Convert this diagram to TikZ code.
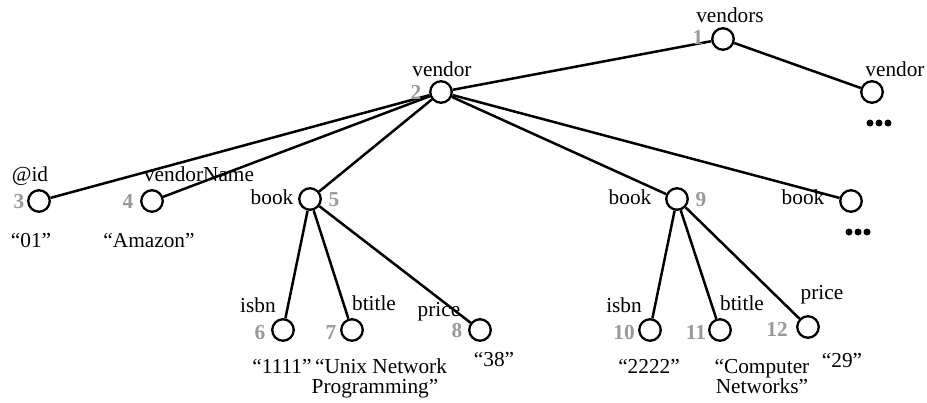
\documentclass[tikz,border=0pt]{standalone}
\usepackage{fontspec}
\setmainfont{Liberation Serif}
\usetikzlibrary{calc}
\begin{document}
\begin{tikzpicture}[x=1pt,y=-1pt,
  elem/.style={circle,draw=black,line width=2.3pt,minimum size=21.5pt,inner sep=0pt},
  edge/.style={line width=2.5pt},
  lbl/.style={anchor=base,inner sep=0pt,font=\fontsize{21.3}{21}\selectfont},
  num/.style={anchor=base,inner sep=0pt,text=numgray,font=\fontsize{21.3}{21}\selectfont\bfseries},
  val/.style={anchor=base,inner sep=0pt,font=\fontsize{21.3}{21}\selectfont}]
\definecolor{numgray}{HTML}{999999}
\useasboundingbox (0,0) rectangle (927,402);

% element nodes
\node[elem] (n1)  at (723,39)  {};
\node[elem] (n2)  at (441,92)  {};
\node[elem] (vR)  at (872,92)  {};
\node[elem] (n3)  at (39,201)  {};
\node[elem] (n4)  at (152,201) {};
\node[elem] (n5)  at (310,199) {};
\node[elem] (n9)  at (677,199) {};
\node[elem] (bR)  at (851,201) {};
\node[elem] (n6)  at (283,330) {};
\node[elem] (n7)  at (352,330) {};
\node[elem] (n8)  at (480,330) {};
\node[elem] (n10) at (650,330) {};
\node[elem] (n11) at (720,330) {};
\node[elem] (n12) at (808,327) {};

% edges
\draw[edge] (n1) -- (n2);
\draw[edge] (n1) -- (vR);
\foreach \c in {n3,n4,n5,n9,bR} \draw[edge] (n2) -- (\c);
\foreach \c in {n6,n7,n8} \draw[edge] (n5) -- (\c);
\foreach \c in {n10,n11,n12} \draw[edge] (n9) -- (\c);

% element names
\node[lbl] (l1)  at (730,22)  {vendors};
\node[lbl] (l2)  at (442,76)  {vendor};
\node[lbl] (lR)  at (895,76)  {vendor};
\node[lbl] (l3)  at (30,181)  {@id};
\node[lbl] (l4)  at (199,181) {vendorName};
\node[lbl] (l5)  at (272,204) {book};
\node[lbl] (l9)  at (630,204) {book};
\node[lbl] (lB)  at (803,204) {book};
\node[lbl] (l6)  at (258,312) {isbn};
\node[lbl] (l7)  at (374,310) {btitle};
\node[lbl] (l8)  at (439,316) {price};
\node[lbl] (l10) at (624,312) {isbn};
\node[lbl] (l11) at (742,310) {btitle};
\node[lbl] (l12) at (822,299) {price};

% node numbers
\node[num] (k1)  at (698,44)  {1};
\node[num] (k2)  at (416,99)  {2};
\node[num] (k3)  at (19,208)  {3};
\node[num] (k4)  at (128,208) {4};
\node[num] (k5)  at (334,206) {5};
\node[num] (k9)  at (701,206) {9};
\node[num] (k6)  at (260,339) {6};
\node[num] (k7)  at (331,339) {7};
\node[num] (k8)  at (457,337) {8};
\node[num] (k10) at (624,339) {10};
\node[num] (k11) at (696,339) {11};
\node[num] (k12) at (777,336) {12};

% values
\node[val] (v3)  at (31,247)  {“01”};
\node[val] (v4)  at (149,247) {“Amazon”};
\node[val] (v6)  at (282,373) {“1111”};
\node[val] (v7a) at (381,373) {“Unix Network};
\node[val] (v7b) at (375,393) {Programming”};
\node[val] (v8)  at (494,366) {“38”};
\node[val] (v10) at (649,373) {“2222”};
\node[val] (v11a) at (762,373) {“Computer};
\node[val] (v11b) at (762,393) {Networks”};
\node[val] (v12) at (842,367) {“29”};

% continuation dots
\foreach \x in {-9,0,9} {
  \fill ($(vR)+(\x+7,31)$) circle (3.5);
  \fill ($(bR)+(\x+7,31)$) circle (3.5);
}
\end{tikzpicture}
\end{document}
